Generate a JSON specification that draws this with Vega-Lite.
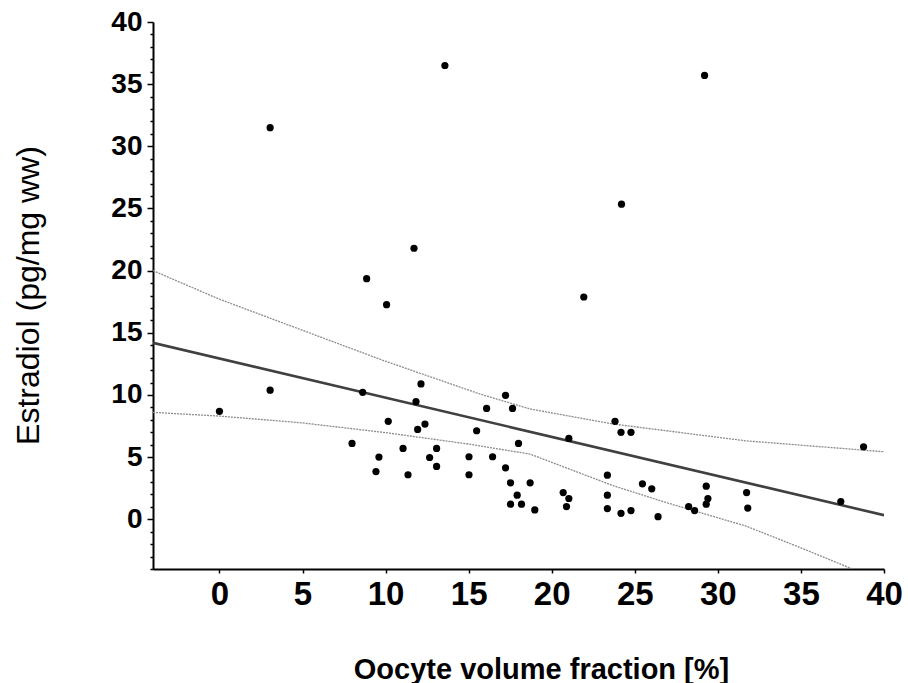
{
  "$schema": "https://vega.github.io/schema/vega-lite/v6.json",
  "width": 731,
  "height": 547,
  "autosize": {"type": "none"},
  "padding": {"left": 153, "top": 22, "right": 24, "bottom": 114},
  "background": "white",
  "config": {
    "font": "Liberation Sans",
    "view": {"stroke": null},
    "axis": {"grid": false, "domainColor": "#000000", "domainWidth": 2, "tickColor": "#000000", "labelColor": "#000000", "titleColor": "#000000"}
  },
  "datasets": {
    "points": [
      {"x": 0, "y": 8.68}, {"x": 3.05, "y": 10.38}, {"x": 3.05, "y": 31.5}, {"x": 7.98, "y": 6.1},
      {"x": 8.62, "y": 10.21}, {"x": 8.86, "y": 19.35}, {"x": 9.6, "y": 5.0}, {"x": 9.42, "y": 3.84},
      {"x": 10.06, "y": 17.26}, {"x": 10.16, "y": 7.88}, {"x": 11.05, "y": 5.7}, {"x": 11.35, "y": 3.58},
      {"x": 11.71, "y": 21.8}, {"x": 11.83, "y": 9.46}, {"x": 11.93, "y": 7.23}, {"x": 12.13, "y": 10.89},
      {"x": 12.37, "y": 7.66}, {"x": 12.65, "y": 4.97}, {"x": 13.07, "y": 5.7}, {"x": 13.07, "y": 4.25},
      {"x": 13.57, "y": 36.5}, {"x": 15.02, "y": 5.03}, {"x": 15.02, "y": 3.58}, {"x": 15.48, "y": 7.12},
      {"x": 16.08, "y": 8.92}, {"x": 16.44, "y": 5.03}, {"x": 17.22, "y": 9.97}, {"x": 17.22, "y": 4.14},
      {"x": 17.52, "y": 2.93}, {"x": 17.52, "y": 1.21}, {"x": 17.64, "y": 8.92}, {"x": 17.92, "y": 1.94},
      {"x": 18.0, "y": 6.1}, {"x": 18.18, "y": 1.21}, {"x": 18.7, "y": 2.93}, {"x": 18.98, "y": 0.75},
      {"x": 20.69, "y": 2.15}, {"x": 20.89, "y": 1.02}, {"x": 21.03, "y": 1.67}, {"x": 21.03, "y": 6.5},
      {"x": 21.93, "y": 17.88}, {"x": 23.35, "y": 3.55}, {"x": 23.35, "y": 1.94}, {"x": 23.35, "y": 0.86},
      {"x": 23.81, "y": 7.88}, {"x": 24.17, "y": 6.99}, {"x": 24.17, "y": 0.48}, {"x": 24.2, "y": 25.35},
      {"x": 24.77, "y": 6.99}, {"x": 24.77, "y": 0.7}, {"x": 25.46, "y": 2.85}, {"x": 26.02, "y": 2.45},
      {"x": 26.4, "y": 0.21}, {"x": 28.24, "y": 1.02}, {"x": 28.6, "y": 0.7}, {"x": 29.2, "y": 35.7},
      {"x": 29.3, "y": 2.66}, {"x": 29.4, "y": 1.67}, {"x": 29.3, "y": 1.21}, {"x": 31.73, "y": 2.15},
      {"x": 31.8, "y": 0.9}, {"x": 37.4, "y": 1.42}, {"x": 38.77, "y": 5.83}
    ],
    "fit": [
      {"x": -4, "y": 14.19}, {"x": 40, "y": 0.33}
    ],
    "bands": [
      {"curve": "upper", "x": -4, "y": 20.0}, {"curve": "upper", "x": 0, "y": 17.7},
      {"curve": "upper", "x": 5, "y": 15.2}, {"curve": "upper", "x": 9.87, "y": 12.77},
      {"curve": "upper", "x": 15.67, "y": 10.08}, {"curve": "upper", "x": 18.7, "y": 8.87},
      {"curve": "upper", "x": 23.7, "y": 7.66}, {"curve": "upper", "x": 31.7, "y": 6.31},
      {"curve": "upper", "x": 40, "y": 5.43},
      {"curve": "lower", "x": -4, "y": 8.6}, {"curve": "lower", "x": 0, "y": 8.3},
      {"curve": "lower", "x": 5, "y": 7.75}, {"curve": "lower", "x": 10, "y": 6.97},
      {"curve": "lower", "x": 15, "y": 6.05}, {"curve": "lower", "x": 18.7, "y": 5.24},
      {"curve": "lower", "x": 20, "y": 4.58}, {"curve": "lower", "x": 23.7, "y": 2.7},
      {"curve": "lower", "x": 27, "y": 1.3}, {"curve": "lower", "x": 31.7, "y": -0.55},
      {"curve": "lower", "x": 35, "y": -2.3}, {"curve": "lower", "x": 38.1, "y": -4}
    ]
  },
  "encoding": {
    "x": {
      "field": "x", "type": "quantitative",
      "scale": {"domain": [-4, 40], "nice": false, "zero": false},
      "axis": {
        "values": [0, 5, 10, 15, 20, 25, 30, 35, 40],
        "title": "Oocyte volume fraction [%]",
        "titleFontSize": 29, "titleFontWeight": "bold",
        "titleX": 388, "titleY": 109, "titleAlign": "center", "titleBaseline": "alphabetic",
        "labelFontSize": 33, "labelFontWeight": "bold", "labelPadding": 5,
        "labelFlush": false, "labelOverlap": false, "labelBound": false,
        "tickSize": 4, "tickWidth": 1.5
      }
    },
    "y": {
      "field": "y", "type": "quantitative",
      "scale": {"domain": [-4, 40], "nice": false, "zero": false},
      "axis": {
        "values": [-4, -3, -2, -1, 0, 1, 2, 3, 4, 5, 6, 7, 8, 9, 10, 11, 12, 13, 14, 15, 16, 17, 18, 19, 20, 21, 22, 23, 24, 25, 26, 27, 28, 29, 30, 31, 32, 33, 34, 35, 36, 37, 38, 39, 40],
        "labelExpr": "datum.value >= 0 && datum.value % 5 === 0 ? datum.label : ''",
        "tickSize": {"condition": {"test": "datum.value % 5 === 0", "value": 6}, "value": 3},
        "tickWidth": 1.5,
        "title": "Estradiol (pg/mg ww)",
        "titleFontSize": 32, "titleFontWeight": "normal",
        "titleX": -115, "titleY": 273, "titleAngle": -90, "titleAlign": "center", "titleBaseline": "alphabetic",
        "labelFontSize": 28, "labelFontWeight": "bold", "labelPadding": 5,
        "labelOverlap": false, "labelBound": false, "labelFlush": false
      }
    }
  },
  "layer": [
    {
      "data": {"name": "bands"},
      "mark": {"type": "line", "color": "#8c8c8c", "strokeWidth": 1.3, "strokeDash": [2, 1], "clip": true},
      "encoding": {
        "detail": {"field": "curve"}
      }
    },
    {
      "data": {"name": "fit"},
      "mark": {"type": "line", "color": "#404040", "strokeWidth": 2.6, "clip": true},
      "encoding": {}
    },
    {
      "data": {"name": "points"},
      "mark": {"type": "point", "filled": true, "color": "#000000", "opacity": 1, "size": 52, "shape": "circle"},
      "encoding": {}
    }
  ]
}
